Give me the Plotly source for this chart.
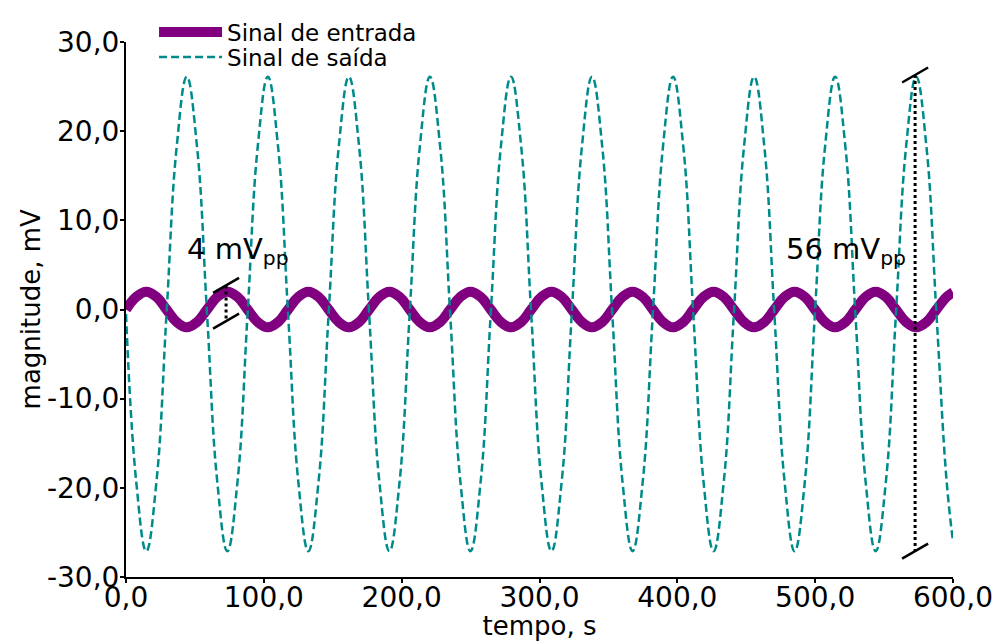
import plotly.graph_objects as go

# ---- data ----
tempo = [0.0, 7.4, 14.7, 22.1, 29.4, 36.8, 44.1, 51.5,
         58.8, 66.2, 73.5, 80.9, 88.2, 95.6, 102.9, 110.3,
         117.6, 125.0, 132.3, 139.7, 147.0, 154.4, 161.7, 169.1,
         176.4, 183.8, 191.1, 198.5, 205.8, 213.2, 220.5, 227.9,
         235.2, 242.6, 249.9, 257.3, 264.6, 272.0, 279.3, 286.7,
         294.0, 301.4, 308.7, 316.1, 323.4, 330.8, 338.1, 345.5,
         352.8, 360.2, 367.5, 374.9, 382.2, 389.6, 396.9, 404.3,
         411.6, 419.0, 426.3, 433.7, 441.0, 448.4, 455.7, 463.1,
         470.4, 477.8, 485.1, 492.5, 499.8, 507.2, 514.5, 521.9,
         529.2, 536.6, 543.9, 551.3, 558.6, 566.0, 573.3, 580.7,
         588.0, 595.4, 600.0]

entrada = [0.0, 1.41, 2.0, 1.41, 0.0, -1.41, -2.0, -1.41,
           0.0, 1.41, 2.0, 1.41, 0.0, -1.41, -2.0, -1.41,
           0.0, 1.41, 2.0, 1.41, 0.0, -1.41, -2.0, -1.41,
           0.0, 1.41, 2.0, 1.41, 0.0, -1.41, -2.0, -1.41,
           0.0, 1.41, 2.0, 1.41, 0.0, -1.41, -2.0, -1.41,
           0.0, 1.41, 2.0, 1.41, 0.0, -1.41, -2.0, -1.41,
           0.0, 1.41, 2.0, 1.41, 0.0, -1.41, -2.0, -1.41,
           0.0, 1.41, 2.0, 1.41, 0.0, -1.41, -2.0, -1.41,
           0.0, 1.41, 2.0, 1.41, 0.0, -1.41, -2.0, -1.41,
           0.0, 1.41, 2.0, 1.41, 0.0, -1.41, -2.0, -1.41,
           0.0, 1.41, 1.92]

saida = [-0.5, -19.3, -27.1, -19.3, -0.5, 18.3, 26.1, 18.3,
         -0.5, -19.3, -27.1, -19.3, -0.5, 18.3, 26.1, 18.3,
         -0.5, -19.3, -27.1, -19.3, -0.5, 18.3, 26.1, 18.3,
         -0.5, -19.3, -27.1, -19.3, -0.5, 18.3, 26.1, 18.3,
         -0.5, -19.3, -27.1, -19.3, -0.5, 18.3, 26.1, 18.3,
         -0.5, -19.3, -27.1, -19.3, -0.5, 18.3, 26.1, 18.3,
         -0.5, -19.3, -27.1, -19.3, -0.5, 18.3, 26.1, 18.3,
         -0.5, -19.3, -27.1, -19.3, -0.5, 18.3, 26.1, 18.3,
         -0.5, -19.3, -27.1, -19.3, -0.5, 18.3, 26.1, 18.3,
         -0.5, -19.3, -27.1, -19.3, -0.5, 18.3, 26.1, 18.3,
         -0.5, -19.3, -26.0]

x_ticks = [0, 100, 200, 300, 400, 500, 600]
x_tick_labels = ["0,0", "100,0", "200,0", "300,0", "400,0", "500,0", "600,0"]
y_ticks = [-30, -20, -10, 0, 10, 20, 30]
y_tick_labels = ["-30,0", "-20,0", "-10,0", "0,0", "10,0", "20,0", "30,0"]

# peak-to-peak markers: (time, top, bottom, label)
pp_in = (72.6, 2.7, -1.3, "4 mV<sub>pp</sub>")
pp_out = (572.5, 26.3, -27.1, "56 mV<sub>pp</sub>")
label_pos_in = (42.8, 6.6)
label_pos_out = (477.4, 6.6)

FONT = "DejaVu Sans"
W, H = 996, 641

fig = go.Figure()
fig.add_trace(go.Scatter(x=tempo, y=entrada, mode="lines", name="Sinal de entrada",
                         legend="legend",
                         line=dict(color="#800080", width=10, shape="spline", smoothing=1.2)))
fig.add_trace(go.Scatter(x=tempo, y=saida, mode="lines", name="Sinal de saída",
                         legend="legend2",
                         line=dict(color="#008B8B", width=2.5, dash="8px,4px",
                                   shape="spline", smoothing=1.2)))

shapes = []
for (t, top, bot, _) in (pp_in, pp_out):
    shapes.append(dict(type="line", xref="x", yref="y", x0=t, x1=t, y0=top, y1=bot,
                       line=dict(color="black", width=3, dash="dot")))
    for yv in (top, bot):
        shapes.append(dict(type="line", xref="x", yref="y",
                           xsizemode="pixel", ysizemode="pixel",
                           xanchor=t, yanchor=yv,
                           x0=-13, x1=13, y0=-7.5, y1=7.5,
                           line=dict(color="black", width=2.5)))

annotations = []
for (pos, item) in ((label_pos_in, pp_in), (label_pos_out, pp_out)):
    annotations.append(dict(x=pos[0], y=pos[1], xref="x", yref="y", text=item[3],
                            showarrow=False, xanchor="left", yanchor="middle",
                            font=dict(family=FONT, size=29, color="black")))
annotations.append(dict(x=-0.115, y=0.5, xref="paper", yref="paper",
                        text="magnitude, mV", textangle=-90, showarrow=False,
                        xanchor="center", yanchor="middle",
                        font=dict(family=FONT, size=26, color="black")))

legend_common = dict(xanchor="left", yanchor="middle",
                     bgcolor="rgba(0,0,0,0)", itemwidth=63,
                     font=dict(family=FONT, size=23, color="black"))

fig.update_layout(
    width=W, height=H,
    margin=dict(l=126, r=43, t=41, b=64),
    paper_bgcolor="white", plot_bgcolor="white",
    font=dict(family=FONT, color="black"),
    showlegend=True,
    legend=dict(x=0.0339, y=1.0168, **legend_common),
    legend2=dict(x=0.0339, y=0.970, **legend_common),
    shapes=shapes,
    annotations=annotations,
    xaxis=dict(range=[0, 600], tickvals=x_ticks, ticktext=x_tick_labels,
               showgrid=False, zeroline=False, showline=True, linecolor="black",
               linewidth=2, ticks="outside", ticklen=4, tickwidth=1.5, tickcolor="black",
               ticklabelstandoff=-10,
               tickfont=dict(family=FONT, size=28, color="black"),
               title=dict(text="tempo, s", font=dict(family=FONT, size=26, color="black"),
                          standoff=12),
               automargin=False),
    yaxis=dict(range=[-30, 30], tickvals=y_ticks, ticktext=y_tick_labels,
               showgrid=False, zeroline=False, showline=True, linecolor="black",
               linewidth=2, ticks="outside", ticklen=4, tickwidth=1.5, tickcolor="black",
               ticklabelstandoff=-5,
               tickfont=dict(family=FONT, size=28, color="black"),
               automargin=False),
)

fig.write_html("out.html")
